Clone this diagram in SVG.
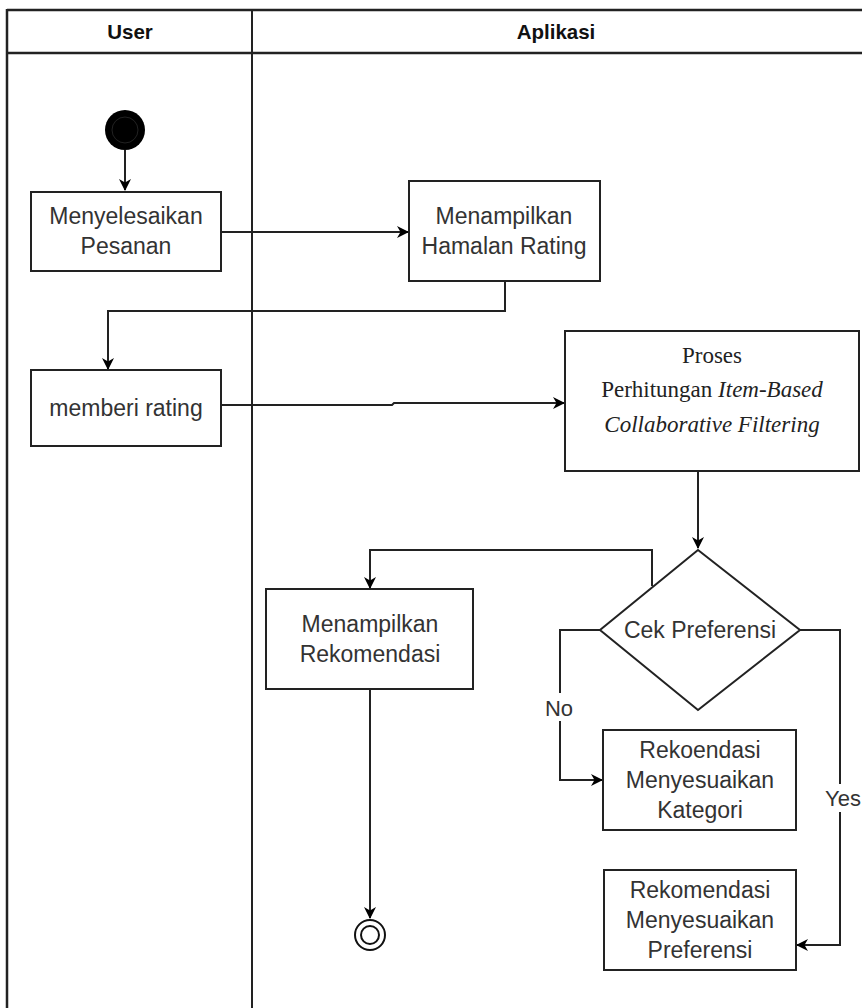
<svg xmlns="http://www.w3.org/2000/svg" width="862" height="1008" viewBox="0 0 862 1008">
<defs>
<marker id="arr" markerWidth="14" markerHeight="14" refX="12" refY="7" orient="auto" markerUnits="userSpaceOnUse">
<path d="M1,1 L13,7 L1,13 L4.5,7 Z" fill="#000"/>
</marker>
<style>
.lane{fill:none;stroke:#222;stroke-width:2.5}
.node{fill:#fff;stroke:#222;stroke-width:2}
.edge{fill:none;stroke:#222;stroke-width:2}
.t{font-family:"Liberation Sans",Arial,sans-serif;font-size:23px;fill:#333;text-anchor:middle}
.h{font-family:"Liberation Sans",Arial,sans-serif;font-size:20.5px;font-weight:bold;fill:#111;text-anchor:middle}
.s{font-family:"Liberation Serif","Times New Roman",serif;font-size:23px;fill:#222;text-anchor:middle}
.lbl{font-family:"Liberation Sans",Arial,sans-serif;font-size:22px;fill:#333;text-anchor:middle}
</style>
</defs>
<rect width="862" height="1008" fill="#fff"/>
<g id="pool">
<line class="lane" x1="7" y1="10" x2="862" y2="10"/>
<line class="lane" x1="7" y1="53" x2="862" y2="53"/>
<line class="lane" x1="7" y1="9" x2="7" y2="1008"/>
<line class="edge" x1="252" y1="10" x2="252" y2="1008"/>
<text class="h" x="130" y="39">User</text>
<text class="h" x="556" y="39">Aplikasi</text>
</g>
<g id="connectors">
<line class="edge" x1="125" y1="150" x2="125" y2="190" marker-end="url(#arr)"/>
<line class="edge" x1="221" y1="232" x2="408" y2="232" marker-end="url(#arr)"/>
<polyline class="edge" points="505,281 505,311 108,311 108,369" marker-end="url(#arr)"/>
<polyline class="edge" points="221,405 392,405 394,403 564,403" marker-end="url(#arr)"/>
<line class="edge" x1="698" y1="471" x2="698" y2="548" marker-end="url(#arr)"/>
<polyline class="edge" points="652,586 652,550 370,550 370,588" marker-end="url(#arr)"/>
<line class="edge" x1="370" y1="689" x2="370" y2="918" marker-end="url(#arr)"/>
<polyline class="edge" points="600,630 560,630 560,780 602,780" marker-end="url(#arr)"/>
<polyline class="edge" points="800,630 840,630 840,945 797,945" marker-end="url(#arr)"/>
<rect x="545" y="693" width="30" height="28" fill="#fff"/>
<text class="lbl" x="559" y="716">No</text>
<rect x="825" y="784" width="37" height="28" fill="#fff"/>
<text class="lbl" x="843" y="806">Yes</text>
</g>
<g id="start">
<circle cx="125" cy="130" r="20" fill="#000"/>
<circle cx="125" cy="130" r="13" fill="none" stroke="#222" stroke-width="1"/>
</g>
<g id="n1">
<rect class="node" x="31" y="192" width="190" height="79"/>
<text class="t" x="126" y="224">Menyelesaikan</text>
<text class="t" x="126" y="254">Pesanan</text>
</g>
<g id="n2">
<rect class="node" x="409" y="181" width="191" height="100"/>
<text class="t" x="504" y="224">Menampilkan</text>
<text class="t" x="504" y="254">Hamalan Rating</text>
</g>
<g id="n3">
<rect class="node" x="31" y="370" width="190" height="76"/>
<text class="t" x="126" y="416">memberi rating</text>
</g>
<g id="n4">
<rect class="node" x="565" y="331" width="294" height="140"/>
<text class="s" x="712" y="363">Proses</text>
<text class="s" x="712" y="397">Perhitungan <tspan font-style="italic">Item-Based</tspan></text>
<text class="s" x="712" y="432" font-style="italic">Collaborative Filtering</text>
</g>
<g id="decision">
<polygon class="node" points="698,550 800,630 698,710 600,630"/>
<text class="t" x="700" y="638">Cek Preferensi</text>
</g>
<g id="n5">
<rect class="node" x="266" y="589" width="207" height="100"/>
<text class="t" x="370" y="632">Menampilkan</text>
<text class="t" x="370" y="662">Rekomendasi</text>
</g>
<g id="n6">
<rect class="node" x="603" y="730" width="193" height="100"/>
<text class="t" x="700" y="758">Rekoendasi</text>
<text class="t" x="700" y="788">Menyesuaikan</text>
<text class="t" x="700" y="818">Kategori</text>
</g>
<g id="n7">
<rect class="node" x="604" y="870" width="192" height="100"/>
<text class="t" x="700" y="898">Rekomendasi</text>
<text class="t" x="700" y="928">Menyesuaikan</text>
<text class="t" x="700" y="958">Preferensi</text>
</g>
<g id="end">
<circle cx="370" cy="935" r="15" fill="#fff" stroke="#111" stroke-width="2"/>
<circle cx="370" cy="935" r="9" fill="#fff" stroke="#111" stroke-width="2"/>
</g>
</svg>
